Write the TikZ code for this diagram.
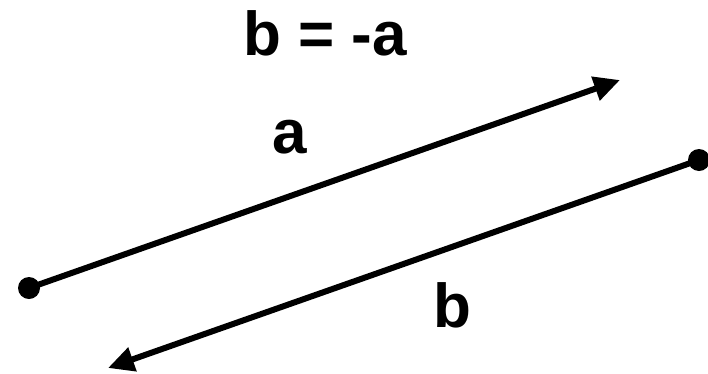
\documentclass[tikz,border=0pt]{standalone}
\usepackage{fontspec}
\setmainfont{Liberation Sans}
\usetikzlibrary{arrows.meta}

\begin{document}
\begin{tikzpicture}[
    x=1pt,
    y=-1pt,
    vec/.style={line width=6pt, -{Triangle[length=26pt, width=24pt]}},
    tail/.style={circle, fill=black, inner sep=0pt, minimum size=22pt},
    lbl/.style={anchor=base, font=\fontsize{62}{62}\selectfont\bfseries}
]

\useasboundingbox (0,0) rectangle (708,373);

% Title
\node [lbl] (title) at (325, 55) {b = -a};

% Vector a
\node [tail] (adot) at (29, 288) {};
\coordinate (atip) at (620, 80);
\draw [vec] (adot.center) -- (atip);
\node [lbl] (alabel) at (290, 153) {a};

% Vector b
\node [tail] (bdot) at (699, 160) {};
\coordinate (btip) at (108, 368);
\draw [vec] (bdot.center) -- (btip);
\node [lbl] (blabel) at (452, 327) {b};

\end{tikzpicture}
\end{document}
